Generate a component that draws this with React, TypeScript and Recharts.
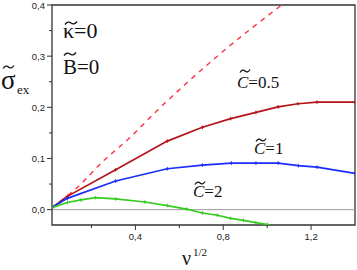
import React from 'react';
import { LineChart, Line, XAxis, YAxis, ReferenceLine, ReferenceArea } from 'recharts';

// sqrt(nu) values and sigma_ex for each C~
const c05Nu = [0.02, 0.09, 0.31, 0.545, 0.705, 0.834, 0.949, 1.05, 1.14, 1.227, 1.4];
const c05Sigma = [0.004, 0.026, 0.078, 0.134, 0.161, 0.178, 0.19, 0.201, 0.207, 0.21, 0.21];

const c1Nu = [0.02, 0.09, 0.31, 0.545, 0.705, 0.837, 0.949, 1.05, 1.142, 1.227, 1.4];
const c1Sigma = [0.004, 0.022, 0.056, 0.08, 0.087, 0.091, 0.091, 0.091, 0.086, 0.083, 0.071];

const c2Nu = [0.02, 0.09, 0.152, 0.217, 0.31, 0.443, 0.545, 0.633, 0.705, 0.773, 0.834, 0.892, 0.949, 1.002];
const c2Sigma = [0.004, 0.014, 0.019, 0.0235, 0.021, 0.015, 0.008, 0.001, -0.0065, -0.011, -0.017, -0.021, -0.0255, -0.029];

const limitNu = [0.02, 0.124, 0.261, 0.368, 0.49, 0.773, 1.063];
const limitSigma = [0.004, 0.039, 0.098, 0.138, 0.19, 0.3, 0.399];

const xTicks = [0.2, 0.4, 0.6, 0.8, 1.0, 1.2];
const xMajor = [0.4, 0.8, 1.2];
const yTicks = [0, 0.05, 0.1, 0.15, 0.2, 0.25, 0.3, 0.35, 0.4];
const yMajor = [0, 0.1, 0.2, 0.3, 0.4];

const zip = (xs: number[], ys: number[]) => xs.map((x, i) => ({ x, y: ys[i] }));

const isMajor = (list: number[], v: number) => list.some(m => Math.abs(m - v) < 1e-6);
const fmt = (v: number) => v.toFixed(1).replace('.', ',');

const AXIS = '#333';
const TICK_STYLE = { fontFamily: '"Liberation Sans", Arial, sans-serif', fontSize: 9.5, fill: '#222' };

function XTick(props: any) {
  const { x, y, payload } = props;
  const major = isMajor(xMajor, payload.value);
  return (
    <g>
      <line x1={x} y1={y} x2={x} y2={y + (major ? 5 : 3)} stroke={AXIS} strokeWidth={1} />
      {major && (
        <text x={x} y={y + 15} textAnchor="middle" style={TICK_STYLE}>{fmt(payload.value)}</text>
      )}
    </g>
  );
}

function YTick(props: any) {
  const { x, y, payload } = props;
  const major = isMajor(yMajor, payload.value);
  return (
    <g>
      <line x1={x - (major ? 5 : 3)} y1={y} x2={x} y2={y} stroke={AXIS} strokeWidth={1} />
      {major && (
        <text x={x - 7} y={y + 3.5} textAnchor="end" style={TICK_STYLE}>{fmt(payload.value)}</text>
      )}
    </g>
  );
}

const plusDot = (color: string) => (p: any) => {
  const { cx, cy, index } = p;
  if (cx == null || cy == null) return <g key={index} />;
  return (
    <g key={index}>
      <line x1={cx - 1.8} y1={cy} x2={cx + 1.8} y2={cy} stroke={color} strokeWidth={1} />
      <line x1={cx} y1={cy - 1.8} x2={cx} y2={cy + 1.8} stroke={color} strokeWidth={1} />
    </g>
  );
};

const serif = (size: number, italic = false) => ({
  fontFamily: '"Liberation Serif", "DejaVu Serif", serif',
  fontSize: size,
  fontStyle: italic ? 'italic' : 'normal',
  fill: '#111',
});

function Tilde({ x, y, w = 12 }: { x: number; y: number; w?: number }) {
  return (
    <path
      d={`M${x},${y + 1.5} Q${x + w * 0.25},${y - 2.5} ${x + w * 0.5},${y} T${x + w},${y - 1.5}`}
      fill="none"
      stroke="#111"
      strokeWidth={1.3}
    />
  );
}

function Labels() {
  return (
    <svg width={357} height={270} style={{ position: 'absolute', left: 0, top: 0, pointerEvents: 'none' }}>
      <Tilde x={65} y={23} w={12} />
      <text x={63} y={38} style={serif(22)}>κ=0</text>
      <Tilde x={64} y={54} w={12} />
      <text x={63} y={74} style={serif(21)}>B=0</text>

      <Tilde x={3} y={67} w={11} />
      <text x={1} y={89} style={serif(27)}>σ</text>
      <text x={17} y={94} style={serif(13)}>ex</text>

      <Tilde x={240} y={71} w={10} />
      <text x={237} y={88} style={serif(17)}><tspan style={serif(17, true)}>C</tspan>=0.5</text>
      <Tilde x={256} y={140} w={10} />
      <text x={254} y={154} style={serif(17)}><tspan style={serif(17, true)}>C</tspan>=1</text>
      <Tilde x={195} y={183} w={10} />
      <text x={193} y={197} style={serif(17)}><tspan style={serif(17, true)}>C</tspan>=2</text>

      <text x={182} y={265} style={serif(20)}>ν</text>
      <text x={193} y={256} style={serif(11)}>1/2</text>
    </svg>
  );
}

export default function App() {
  return (
    <div style={{ position: 'absolute', left: 0, top: 0, width: 357, height: 270, background: '#fff' }}>
      <LineChart width={357} height={270} margin={{ top: 5, right: 2, left: 0, bottom: 0 }}>
        <XAxis
          type="number"
          dataKey="x"
          domain={[0.02, 1.4]}
          ticks={xTicks}
          tick={<XTick />}
          tickSize={0}
          tickMargin={0}
          tickLine={false}
          axisLine={false}
          height={45}
          allowDataOverflow
          interval={0}
        />
        <YAxis
          type="number"
          dataKey="y"
          domain={[-0.03, 0.4]}
          ticks={yTicks}
          tick={<YTick />}
          tickSize={0}
          tickMargin={0}
          tickLine={false}
          axisLine={false}
          width={52}
          allowDataOverflow
          interval={0}
        />
        <ReferenceArea x1={0.02} x2={1.4} y1={-0.03} y2={0.4} fill="none" stroke={AXIS} strokeWidth={1.3} />
        <ReferenceLine y={0} stroke="#999" strokeWidth={1} />
        <Line data={zip(limitNu, limitSigma)} dataKey="y" type="monotone" stroke="#ff3045" strokeWidth={1.4}
          strokeDasharray="5 5" dot={false} isAnimationActive={false} />
        <Line data={zip(c05Nu, c05Sigma)} dataKey="y" type="linear" stroke="#b3141a" strokeWidth={1.7}
          dot={plusDot('#b3141a')} isAnimationActive={false} />
        <Line data={zip(c1Nu, c1Sigma)} dataKey="y" type="linear" stroke="#1a2dff" strokeWidth={1.7}
          dot={plusDot('#1a2dff')} isAnimationActive={false} />
        <Line data={zip(c2Nu, c2Sigma)} dataKey="y" type="linear" stroke="#35cc1f" strokeWidth={1.7}
          dot={plusDot('#35cc1f')} isAnimationActive={false} />
      </LineChart>
      <Labels />
    </div>
  );
}
